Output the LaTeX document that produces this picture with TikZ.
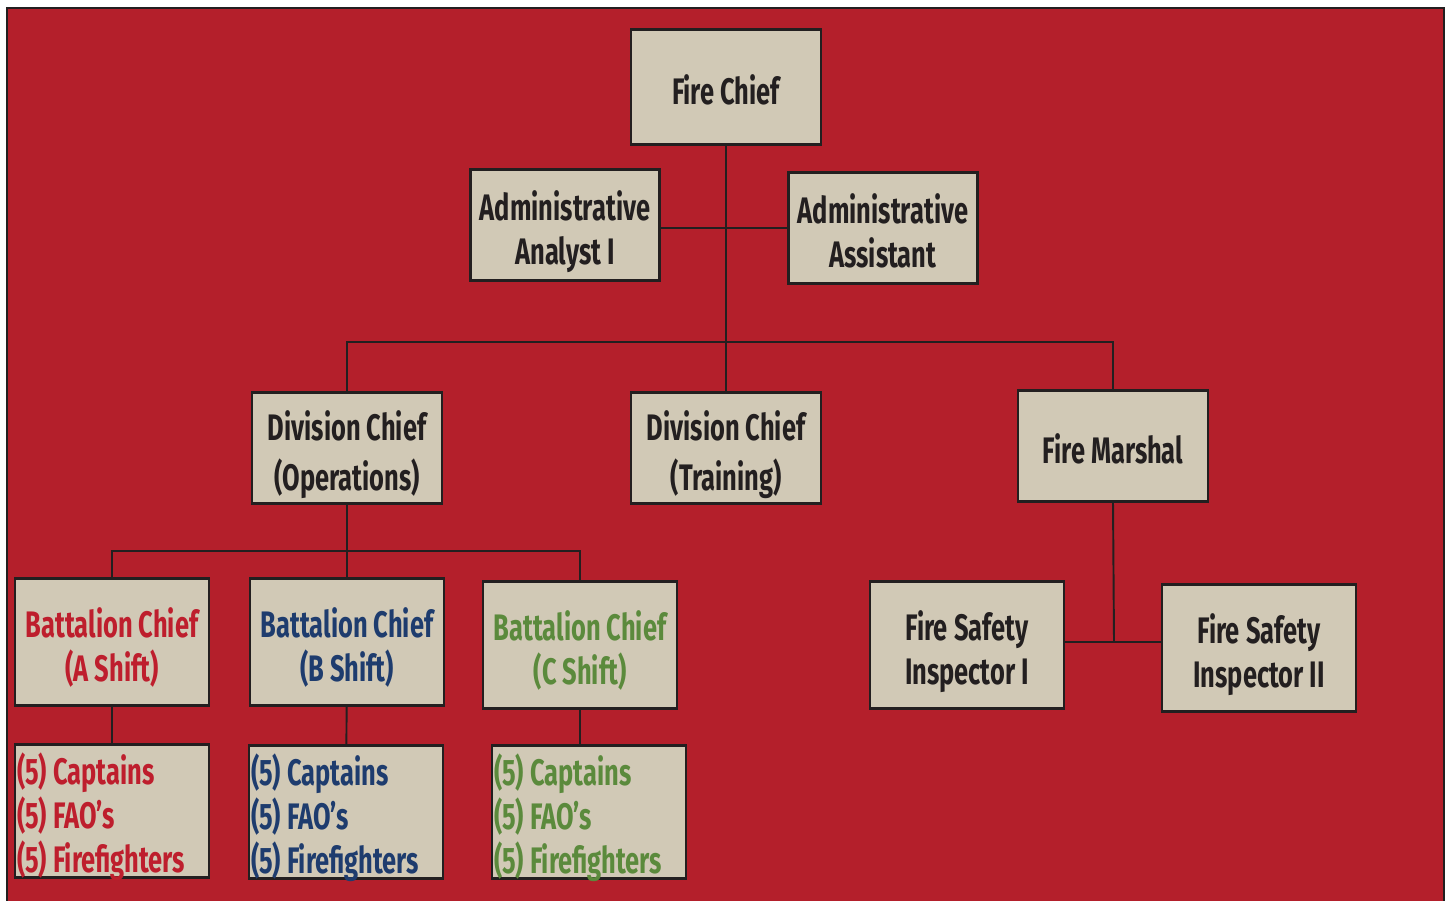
\documentclass[tikz,border=0pt]{standalone}
\usepackage{fontspec}
\usepackage{xcolor}
\usepackage{tikz}
\usetikzlibrary{positioning}
\newfontfamily\orgfont{Fira Sans}[FakeStretch=0.69]
\definecolor{bgred}{HTML}{B41F2B}
\definecolor{boxfill}{HTML}{D1C9B6}
\definecolor{inkdark}{HTML}{231F20}
\definecolor{shiftred}{HTML}{BE1E2D}
\definecolor{shiftblue}{HTML}{1E3C6E}
\definecolor{shiftgreen}{HTML}{5B8A3C}

\begin{document}
\begin{tikzpicture}[
  x=0.02cm, y=-0.02cm,
  orgbox/.style={rectangle, draw=inkdark, fill=boxfill, line width=1.4pt, inner sep=0pt, text width=3.7cm, align=flush center, text=inkdark, text height=20pt, text depth=25pt, font=\orgfont\bfseries\fontsize{21}{25}\selectfont},
  topbox/.style={orgbox, minimum width=3.8cm, minimum height=2.22cm},
  shiftbox/.style={orgbox, minimum width=3.88cm, minimum height=2.54cm},
  crewbox/.style={orgbox, minimum width=3.88cm, minimum height=2.66cm, text width=3.8cm, align=flush left, text depth=50pt},
  divbox/.style={topbox, text depth=28pt, font=\orgfont\bfseries\fontsize{21}{28}\selectfont},
  oneline/.style={text depth=0pt},
  link/.style={draw=inkdark, line width=1.1pt}
]
\useasboundingbox (0,0) rectangle (1449,901);
\fill[bgred, draw=inkdark, line width=1.4pt] (7,8) rectangle (1444,920);

% top of the tree
\node[topbox, oneline, minimum height=2.3cm] (chief) at (726,87) {Fire Chief};
\node[topbox, minimum width=3.78cm] (analyst) at (565,225) {Administrative\\Analyst I};
\node[topbox, minimum width=3.78cm] (assistant) at (883,228) {Administrative\\Assistant};
\node[divbox] (divops) at (347,448) {Division Chief\\(Operations)};
\node[divbox] (divtrain) at (726,448) {Division Chief\\(Training)};
\node[topbox, oneline] (marshal) at (1113,446) {Fire Marshal};

% operations shifts
\node[shiftbox, text=shiftred] (bca) at (112,642) {Battalion Chief\\(A Shift)};
\node[shiftbox, text=shiftblue] (bcb) at (347,642) {Battalion Chief\\(B Shift)};
\node[shiftbox, text=shiftgreen] (bcc) at (580,645) {Battalion Chief\\(C Shift)};
\node[crewbox, text=shiftred] (crewa) at (112,811) {(5) Captains\\(5) FAO’s\\(5) Firefighters};
\node[crewbox, text=shiftblue] (crewb) at (346,812) {(5) Captains\\(5) FAO’s\\(5) Firefighters};
\node[crewbox, text=shiftgreen] (crewc) at (589,812) {(5) Captains\\(5) FAO’s\\(5) Firefighters};

% fire marshal staff
\node[shiftbox] (fsi1) at (967,645) {Fire Safety\\Inspector I};
\node[shiftbox] (fsi2) at (1259,648) {Fire Safety\\Inspector II};

\coordinate (divbus) at (725,342);
\coordinate (opsbus) at (347,551);
\coordinate (fsibus) at (1114,642);

\draw[link] (chief) -- (divtrain);
\draw[link] (assistant.west) -- (assistant.west -| analyst.east);
\draw[link] (divops.north) |- (divbus) -| (marshal.north);
\draw[link] (divops) -- (bcb);
\draw[link] (bca.north) |- (opsbus) -| (bcc.north);
\draw[link] (bca.south) -- (bca.south |- crewa.north);
\draw[link] (bcb) -- (crewb);
\draw[link] (bcc.south) -- (bcc.south |- crewc.north);
\draw[link] (marshal.south) -- (fsibus);
\draw[link] (fsibus -| fsi1.east) -- (fsibus -| fsi2.west);
\end{tikzpicture}
\end{document}
